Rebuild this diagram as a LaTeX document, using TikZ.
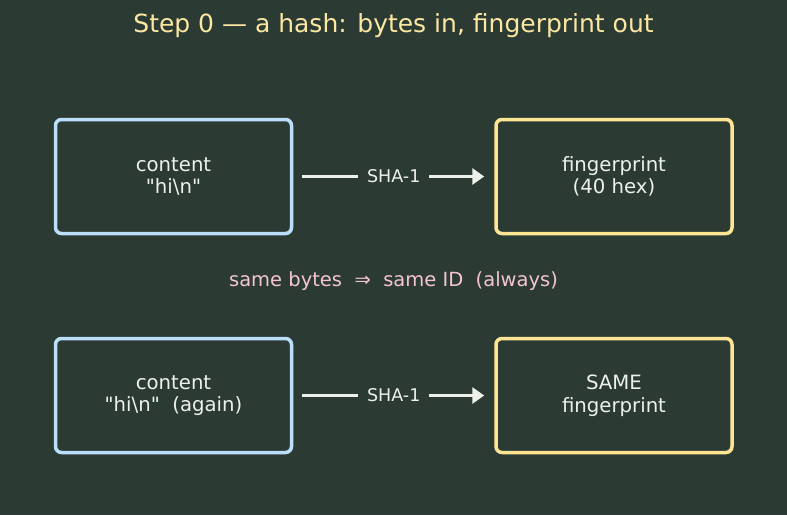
\documentclass[tikz,border=0pt]{standalone}
\usepackage{fontspec}
\setmainfont{DejaVu Sans}[Ligatures=TeXOff]
\usetikzlibrary{arrows.meta}
\definecolor{bg}{HTML}{2B3B34}
\definecolor{bluebd}{HTML}{BBDEFB}
\definecolor{yellowbd}{HTML}{FFE594}
\definecolor{txt}{HTML}{EEF0EA}
\definecolor{titlec}{HTML}{FBE6A2}
\definecolor{notec}{HTML}{F5C4D4}
\tikzset{
  box/.style={draw, line width=3.5pt, rounded corners=6pt, minimum width=236pt, minimum height=114pt,
    align=center, text=txt, font=\fontsize{19.7}{22.5}\selectfont, inner sep=0pt},
  inbox/.style={box, draw=bluebd},
  outbox/.style={box, draw=yellowbd},
  hasharrow/.style={draw=txt, line width=3.5pt, -{Triangle[length=12pt,width=16pt]}, shorten <=9pt, shorten >=10pt},
  hashlabel/.style={fill=bg, text=txt, font=\fontsize{17.5}{20}\selectfont, inner xsep=9pt, inner ysep=2pt}
}
\begin{document}
\begin{tikzpicture}[x=1pt,y=-1pt]
\fill[bg] (0,0) rectangle (787,515);
\useasboundingbox (0,0) rectangle (787,515);
\node[text=titlec, font=\fontsize{25}{28}\selectfont] (title) at (393.5,26) {Step 0 — a hash: bytes in, fingerprint out};
\node[inbox] (c1) at (173.5,176.5) {content\\"hi\textbackslash n"};
\node[outbox] (f1) at (614,176.5) {fingerprint\\(40 hex)};
\node[text=notec, font=\fontsize{19.5}{22}\selectfont] (note) at (393.5,281.5) {same bytes \ ⇒ \ same ID \ (always)};
\node[inbox] (c2) at (173.5,395.5) {content\\"hi\textbackslash n"\ \ (again)};
\node[outbox] (f2) at (614,395.5) {SAME\\fingerprint};
\draw[hasharrow] (c1) -- node[hashlabel] (h1) {SHA-1} (f1);
\draw[hasharrow] (c2) -- node[hashlabel] (h2) {SHA-1} (f2);
\end{tikzpicture}
\end{document}
